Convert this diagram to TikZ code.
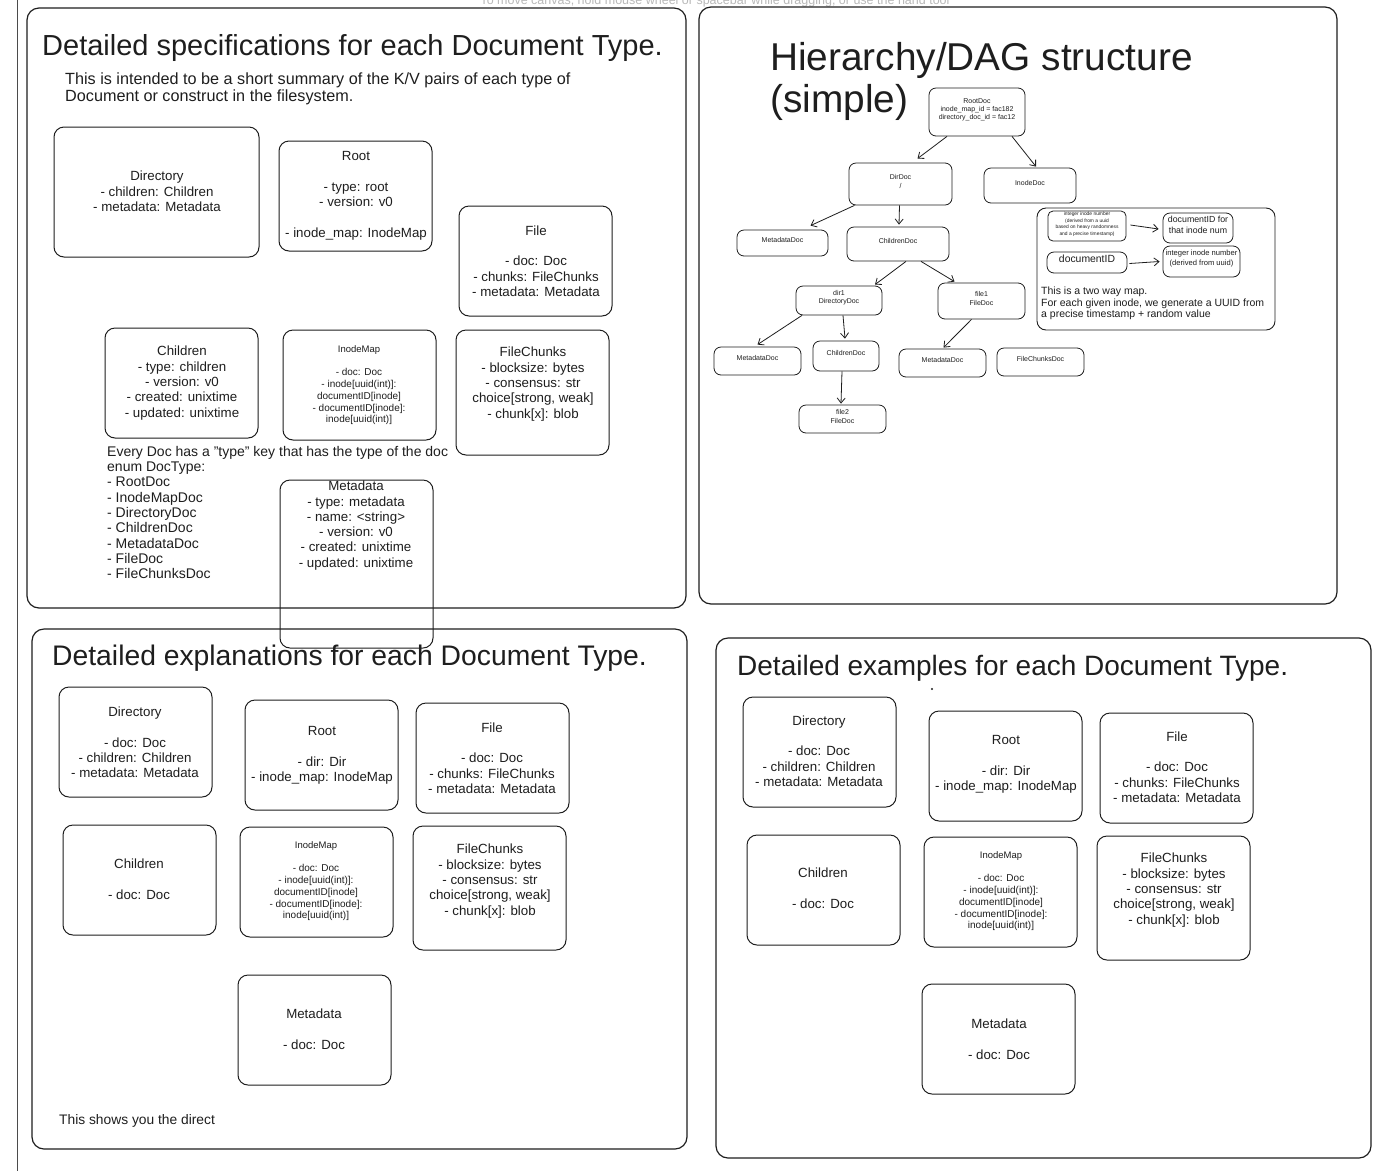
\documentclass[tikz,border=0pt]{standalone}
\usepackage{fontspec}
\setmainfont{Liberation Sans}
\usetikzlibrary{arrows.meta,fit}
\definecolor{ink}{HTML}{1E1E1E}
\begin{document}
\begin{tikzpicture}[x=1pt,y=-1pt,
  panel/.style={draw=ink,line width=1.2pt,rounded corners=12pt},
  card/.style={draw=ink,line width=1pt,rounded corners=10pt,inner sep=0pt},
  dag/.style={draw=ink,line width=0.8pt,rounded corners=7pt,inner sep=0pt,font=\fontsize{7}{8.2}\selectfont,align=center,text=ink},
  spec/.style={font=\fontsize{13.3}{15.3}\selectfont,align=center,text=ink,inner sep=0pt},
  inm/.style={font=\fontsize{10}{11.8}\selectfont,align=center,text=ink,inner sep=0pt},
  ttl/.style={font=\fontsize{29}{34}\selectfont,anchor=base west,inner sep=0pt,text=ink},
  bigttl/.style={font=\fontsize{38.8}{43}\selectfont,anchor=base west,inner sep=0pt,text=ink},
  arr/.style={draw=ink,line width=0.8pt,-{Straight Barb[length=5pt,width=8pt]}}
]
\useasboundingbox (0,0) rectangle (1382,1171);
\fill[white] (0,0) rectangle (1382,1171);

% UI hint, cut at top edge as in the screenshot
\begin{scope}
\clip (0,0) rectangle (1382,20);
\node[font=\fontsize{12.5}{14}\selectfont,text=gray!55,anchor=base,inner sep=0pt] (hint) at (715,4) {To move canvas, hold mouse wheel or spacebar while dragging, or use the hand tool};
\end{scope}

% left edge line
\coordinate (lt) at (17.5,0);
\coordinate (lb) at (17.5,1171);
\draw[ink!80,line width=1pt] (lt) -- (lb);

% ================= Panel 1 =================
\node[panel,inner sep=0pt,fit={(27,8)(686,608)}] (p1) {};
\node[ttl] (t1) at (42,55) {Detailed specifications for each Document Type.};
\node[font=\fontsize{16.2}{17}\selectfont,align=left,anchor=west,inner sep=0pt,text=ink] (s1) at (65,88.5)
  {This is intended to be a short summary of the K/V pairs of each type of\\Document or construct in the filesystem.};

\node[card,fit={(54,127)(259,257)}] (dirS) {};
\node[spec] (dirSt) at (157,191.5) {Directory\\- children: Children\\- metadata: Metadata};

\node[card,fit={(279,141)(432,251)}] (rootS) {};
\node[spec] (rootSt) at (356,196) {Root\\[15.3pt]- type: root\\- version: v0\\[15.3pt]- inode\_map: InodeMap};

\node[card,fit={(459,206)(612,316)}] (fileS) {};
\node[spec] (fileSt) at (536,261) {File\\[15.3pt]- doc: Doc\\- chunks: FileChunks\\- metadata: Metadata};

\node[card,fit={(105,328)(258,438)}] (childS) {};
\node[spec] (childSt) at (182,383) {Children\\- type: children\\- version: v0\\- created: unixtime\\- updated: unixtime};

\node[card,fit={(283,330)(436,440)}] (inodeS) {};
\node[inm] (inodeSt) at (359,385.5) {{\fontsize{9.5}{11}\selectfont InodeMap}\\[11pt]- doc: Doc\\- inode[uuid(int)]:\\documentID[inode]\\- documentID[inode]:\\inode[uuid(int)]};

\node[card,fit={(456,330)(609,455)}] (chunkS) {};
\node[spec] (chunkSt) at (533,384) {FileChunks\\- blocksize: bytes\\- consensus: str\\choice[strong, weak]\\- chunk[x]: blob};

\node[font=\fontsize{14}{15.3}\selectfont,align=left,anchor=west,inner sep=0pt,text=ink] (enumS) at (107,512.5) {Every Doc has a "type" key that has the type of the doc\\enum DocType:\\- RootDoc\\- InodeMapDoc\\- DirectoryDoc\\- ChildrenDoc\\- MetadataDoc\\- FileDoc\\- FileChunksDoc};

\node[card,fit={(280,480)(433,648)}] (metaS) {};
\node[spec] (metaSt) at (356,525.5) {Metadata\\- type: metadata\\- name: <string>\\- version: v0\\- created: unixtime\\- updated: unixtime};

% ================= Panel 2 =================
\node[panel,inner sep=0pt,fit={(699,7)(1337,604)}] (p2) {};
\node[bigttl] (t2a) at (770,70) {Hierarchy/DAG structure};
\node[bigttl] (t2b) at (770,112) {(simple)};

\node[dag,fit={(929,88)(1025,136)}] (rootD) {RootDoc\\inode\_map\_id = fac182\\directory\_doc\_id = fac12};
\node[dag,fit={(849,163)(952,205)}] (dirD) {DirDoc\\/};
\node[dag,fit={(984,168)(1076,203)}] (inodeD) {InodeDoc};
\node[dag,fit={(737,230)(828,256)}] (metaD1) {MetadataDoc};
\node[dag,fit={(847,227)(949,261)}] (childD1) {ChildrenDoc};
\node[dag,fit={(796,286)(882,315)}] (dir1D) {dir1\\DirectoryDoc};
\node[dag,fit={(938,283)(1025,319)}] (file1D) {file1\\FileDoc};
\node[dag,fit={(714,347)(801,375)}] (metaD2) {MetadataDoc};
\node[dag,fit={(813,341)(879,371)}] (childD2) {ChildrenDoc};
\node[dag,fit={(899,349)(986,377)}] (metaD3) {MetadataDoc};
\node[dag,fit={(997,348)(1084,376)}] (chunksD) {FileChunksDoc};
\node[dag,fit={(799,405)(886,433)}] (file2D) {file2\\FileDoc};

\draw[arr] ([xshift=-30pt]rootD.south) -- ([xshift=17pt,yshift=4pt]dirD.north);
\draw[arr] ([xshift=35pt]rootD.south) -- ([xshift=6pt,yshift=1pt]inodeD.north);
\draw[arr] ([xshift=-46pt]dirD.south) -- ([xshift=28pt,yshift=4pt]metaD1.north);
\draw[arr] ([xshift=-1pt]dirD.south) -- ([xshift=1pt,yshift=2pt]childD1.north);
\draw[arr] ([xshift=8pt]childD1.south) -- ([xshift=36pt,yshift=1pt]dir1D.north);
\draw[arr] ([xshift=23pt]childD1.south) -- ([xshift=-27pt,yshift=1pt]file1D.north);
\draw[arr] ([xshift=-37pt]dir1D.south) -- ([yshift=2pt]metaD2.north);
\draw[arr] ([xshift=4pt]dir1D.south) -- ([xshift=-1pt,yshift=2pt]childD2.north);
\draw[arr] ([xshift=-4pt]childD2.south) -- ([xshift=-1.5pt,yshift=1pt]file2D.north);
\draw[arr] ([xshift=-10pt]file1D.south) -- ([xshift=1pt,yshift=1pt]metaD3.north);

% two-way map box
\node[panel,line width=0.9pt,rounded corners=9pt,inner sep=0pt,fit={(1037,208)(1275,330)}] (mapB) {};
\node[dag,rounded corners=5pt,font=\fontsize{4.9}{6.4}\selectfont,fit={(1048,211)(1126,241)}] (m1) {integer inode number\\(derived from a uuid\\based on heavy randomness\\and a precise timestamp)};
\node[dag,font=\fontsize{8.8}{11}\selectfont,fit={(1163,213)(1233,243)}] (m2) {documentID for\\that inode num};
\node[dag,font=\fontsize{10.4}{12}\selectfont,fit={(1047,252)(1127,273)}] (m3) {documentID};
\node[dag,font=\fontsize{7.6}{9.5}\selectfont,fit={(1163,246)(1240,277)}] (m4) {integer inode number\\(derived from uuid)};
\draw[arr] ([xshift=4pt,yshift=1pt]m1.east) -- ([xshift=-4pt,yshift=-1pt]m2.west);
\draw[arr] ([xshift=2pt,yshift=-1pt]m3.east) -- ([xshift=-3pt,yshift=0pt]m4.west);
\node[font=\fontsize{10.5}{11.6}\selectfont,align=left,anchor=west,inner sep=0pt,text=ink] (mapT) at (1041,303.5)
  {This is a two way map.\\For each given inode, we generate a UUID from\\a precise timestamp + random value};

% ================= Panel 3 =================
\node[panel,inner sep=0pt,fit={(32,629)(687,1149)}] (p3) {};
\node[ttl,font=\fontsize{28.3}{34}\selectfont] (t3) at (52,665) {Detailed explanations for each Document Type.};

\node[card,fit={(59,687)(212,797)}] (dirE) {};
\node[spec] (dirEt) at (135,742.5) {Directory\\[15.3pt]- doc: Doc\\- children: Children\\- metadata: Metadata};
\node[card,fit={(245,700)(398,810)}] (rootE) {};
\node[spec] (rootEt) at (322,755.5) {Root\\[15.3pt]- dir: Dir\\- inode\_map: InodeMap};
\node[card,fit={(416,703)(569,813)}] (fileE) {};
\node[spec] (fileEt) at (492,758) {File\\[15.3pt]- doc: Doc\\- chunks: FileChunks\\- metadata: Metadata};
\node[card,fit={(63,825)(216,935)}] (childE) {};
\node[spec] (childEt) at (139,879.5) {Children\\[15.3pt]- doc: Doc};
\node[card,fit={(240,827)(393,937)}] (inodeE) {};
\node[inm] (inodeEt) at (316,881.5) {{\fontsize{9.5}{11}\selectfont InodeMap}\\[11pt]- doc: Doc\\- inode[uuid(int)]:\\documentID[inode]\\- documentID[inode]:\\inode[uuid(int)]};
\node[card,fit={(413,826)(566,950)}] (chunkE) {};
\node[spec] (chunkEt) at (490,881) {FileChunks\\- blocksize: bytes\\- consensus: str\\choice[strong, weak]\\- chunk[x]: blob};
\node[card,fit={(238,975)(391,1085)}] (metaE) {};
\node[spec] (metaEt) at (314,1029.5) {Metadata\\[15.3pt]- doc: Doc};
\node[font=\fontsize{13.8}{15}\selectfont,anchor=west,inner sep=0pt,text=ink] (noteE) at (59,1121) {This shows you the direct};

% ================= Panel 4 =================
\node[panel,inner sep=0pt,fit={(716,638)(1371,1158)}] (p4) {};
\node[ttl,font=\fontsize{28}{34}\selectfont] (t4) at (737,675) {Detailed examples for each Document Type.};
\fill[ink] (932,689) circle (1.1);

\node[card,fit={(743,697)(896,807)}] (dirX) {};
\node[spec] (dirXt) at (819,751) {Directory\\[15.3pt]- doc: Doc\\- children: Children\\- metadata: Metadata};
\node[card,fit={(929,711)(1082,821)}] (rootX) {};
\node[spec] (rootXt) at (1006,764.5) {Root\\[15.3pt]- dir: Dir\\- inode\_map: InodeMap};
\node[card,fit={(1100,713)(1253,823)}] (fileX) {};
\node[spec] (fileXt) at (1177,767) {File\\[15.3pt]- doc: Doc\\- chunks: FileChunks\\- metadata: Metadata};
\node[card,fit={(747,835)(900,945)}] (childX) {};
\node[spec] (childXt) at (823,888.5) {Children\\[15.3pt]- doc: Doc};
\node[card,fit={(924,837)(1077,947)}] (inodeX) {};
\node[inm] (inodeXt) at (1001,891.5) {{\fontsize{9.5}{11}\selectfont InodeMap}\\[11pt]- doc: Doc\\- inode[uuid(int)]:\\documentID[inode]\\- documentID[inode]:\\inode[uuid(int)]};
\node[card,fit={(1097,836)(1250,960)}] (chunkX) {};
\node[spec] (chunkXt) at (1174,890) {FileChunks\\- blocksize: bytes\\- consensus: str\\choice[strong, weak]\\- chunk[x]: blob};
\node[card,fit={(922,984)(1075,1094)}] (metaX) {};
\node[spec] (metaXt) at (999,1039.5) {Metadata\\[15.3pt]- doc: Doc};
\end{tikzpicture}
\end{document}
